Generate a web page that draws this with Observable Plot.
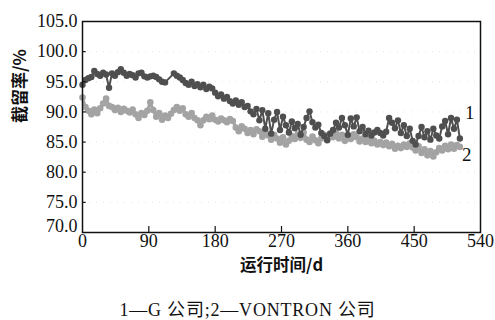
<!DOCTYPE html>
<html>
<head>
<meta charset="utf-8">
<script src="https://cdn.jsdelivr.net/npm/d3@7"></script>
<script src="https://cdn.jsdelivr.net/npm/@observablehq/plot@0.6"></script>
<style>
  html, body { margin: 0; padding: 0; background: #fff; }
  #chart { width: 495px; }
  #caption { text-align: center; font-family: "Liberation Serif", "Noto Sans CJK SC", serif; font-size: 18px; letter-spacing: 0.8px; line-height: 20px; margin-top: 10px; color: #111; }
</style>
</head>
<body>
<div id="chart"></div>
<div id="caption"></div>
<script>
// ---- data ----
const xTicks = [0, 90, 180, 270, 360, 450, 540];
const yTicks = [70, 75, 80, 85, 90, 95, 100, 105];
const xLabel = "运行时间/d";
const yLabel = "截留率/%";
const seriesNames = ["1", "2"];
const captionText = "1—G 公司;2—VONTRON 公司";

// series 1: G company (day, rejection %)
const seriesG = [
  [0,94.5],[4,95.3],[8,95.6],[12,95.8],[16,96.8],[20,96.3],[24,96.0],[28,96.5],[32,96.2],[36,94.0],
  [40,96.4],[44,96.0],[48,96.6],[52,97.1],[56,96.5],[60,96.0],[64,96.3],[68,96.1],[72,95.7],[76,96.4],
  [80,96.5],[84,95.9],[88,95.7],[92,95.9],[96,96.0],[100,95.8],[104,95.4],[108,95.0],[112,94.9],
  [124,96.4],[128,96.0],[132,95.7],[136,95.3],[140,94.8],[144,94.5],[148,95.0],[152,94.3],[156,94.6],
  [160,94.1],[164,94.5],[168,93.8],[172,94.2],[176,93.9],[180,93.2],[184,92.6],[188,92.9],[192,92.2],
  [196,92.5],[200,91.8],[204,91.4],[208,91.9],[212,91.2],[216,91.6],[220,90.8],[224,91.0],[228,90.1],
  [232,89.6],[236,90.5],[240,88.6],[244,90.3],[248,87.2],[252,89.8],[256,86.4],[260,88.7],[264,90.0],
  [268,87.0],[272,89.2],[276,87.8],[280,86.6],[284,88.4],[288,87.3],[292,88.0],[296,86.2],[300,87.5],
  [304,89.0],[308,90.1],[312,88.3],[316,87.4],[320,87.9],[324,86.5],[328,86.0],[332,85.3],[336,86.4],
  [340,87.0],[344,88.2],[348,87.4],[352,89.0],[356,87.8],[360,86.2],[364,88.9],[368,87.6],[372,89.1],
  [376,86.8],[380,87.5],[384,86.3],[388,86.9],[392,86.1],[396,86.6],[400,87.0],[404,86.5],[408,86.1],
  [412,86.7],[416,89.0],[420,88.2],[424,87.3],[428,88.6],[432,86.5],[436,87.8],[440,86.0],[444,87.2],
  [448,85.2],[452,84.6],[456,86.0],[460,87.5],[464,85.8],[468,86.8],[472,85.4],[476,87.2],[480,86.1],
  [484,85.6],[488,87.6],[492,88.5],[496,86.3],[500,89.0],[504,87.2],[508,88.7],[512,85.6]
];

// series 2: VONTRON company (day, rejection %)
const seriesV = [
  [0,92.4],[4,90.8],[8,90.2],[12,89.6],[16,90.4],[20,89.8],[24,90.6],[28,91.4],[32,92.2],[36,91.0],
  [40,90.8],[44,90.3],[48,90.7],[52,90.0],[56,90.5],[60,90.2],[64,89.9],[68,90.4],[72,89.6],[76,89.0],
  [80,89.8],[84,89.5],[88,90.2],[92,91.6],[96,90.3],[100,89.2],[104,89.8],[108,88.7],[112,89.4],[116,89.0],
  [120,89.7],[124,90.3],[128,90.8],[132,90.2],[136,90.6],[140,89.6],[144,89.2],[148,89.8],[152,89.0],
  [156,88.6],[160,87.8],[164,88.6],[168,89.2],[172,88.8],[176,89.4],[180,88.7],[184,88.4],[188,88.9],
  [192,88.6],[196,88.3],[200,88.8],[204,88.5],[208,87.4],[212,86.8],[216,87.6],[220,87.2],[224,86.5],
  [228,87.0],[232,86.3],[236,87.1],[240,86.8],[244,85.9],[248,86.7],[252,86.1],[256,85.4],[260,86.2],
  [264,85.6],[268,84.9],[272,85.8],[276,84.6],[280,85.2],[284,86.0],[288,85.5],[292,86.3],[296,85.7],
  [300,86.6],[304,85.4],[308,85.0],[312,85.9],[316,85.3],[320,84.8],[324,85.6],[328,86.2],[332,85.4],
  [336,86.4],[340,85.8],[344,86.5],[348,85.6],[352,86.2],[356,85.2],[360,86.0],[364,85.5],[368,86.3],
  [372,85.8],[376,85.1],[380,85.6],[384,85.0],[388,85.4],[392,84.8],[396,85.2],[400,84.6],[404,85.0],
  [408,84.5],[412,84.9],[416,84.3],[420,84.7],[424,83.9],[428,84.4],[432,84.0],[436,84.6],[440,84.2],
  [444,84.8],[448,84.1],[452,83.6],[456,84.3],[460,83.2],[464,83.8],[468,82.8],[472,83.5],[476,82.6],
  [480,83.3],[484,84.0],[488,83.6],[492,84.4],[496,83.8],[500,84.6],[504,83.9],[508,84.5],[512,84.2]
];

// ---- build ----
const toRows = (arr) => arr.map(([d, v]) => ({d, v}));
const rowsG = toRows(seriesG);
const rowsV = toRows(seriesV);
const darkC = "#4f4f4f";
const lightC = "#a3a3a3";
const serif = "'Liberation Serif', 'Times New Roman', serif";
const cjkBold = "'Noto Sans CJK SC', sans-serif";

const chart = Plot.plot({
  width: 495,
  height: 290,
  marginLeft: 82,
  marginRight: 15,
  marginTop: 21,
  marginBottom: 58,
  style: {fontFamily: serif, fontSize: "18px", color: "#111", background: "#fff"},
  x: {domain: [0, 540]},
  y: {domain: [70, 105]},
  marks: [
    Plot.gridY(yTicks.slice(1, -1), {stroke: "#bbb", strokeOpacity: 0.4, strokeDasharray: "1,6"}),
    // series 2 (light)
    Plot.line(rowsV, {x: "d", y: "v", stroke: lightC, strokeWidth: 3}),
    Plot.dot(rowsV, {x: "d", y: "v", fill: lightC, r: 3.3}),
    // series 1 (dark)
    Plot.line(rowsG, {x: "d", y: "v", stroke: darkC, strokeWidth: 2}),
    Plot.dot(rowsG, {x: "d", y: "v", fill: darkC, r: 3.2}),
    // series labels
    Plot.text(rowsG, Plot.selectLast({x: "d", y: "v", text: () => seriesNames[0], dx: 10, dy: -26, fontSize: 19, fontFamily: serif, fill: "#111"})),
    Plot.text(rowsV, Plot.selectLast({x: "d", y: "v", text: () => seriesNames[1], dx: 7, dy: 8, fontSize: 19, fontFamily: serif, fill: "#111"})),
    // inward ticks
    Plot.ruleX(xTicks.slice(1, -1), {y1: 70, y2: 71, stroke: "#111", strokeWidth: 1.2}),
    Plot.ruleY(yTicks.slice(1, -1), {x1: 0, x2: 5, stroke: "#111", strokeWidth: 1.2}),
    // tick labels
    Plot.axisX(xTicks, {tickSize: 0, tickPadding: 2, fontSize: 18, fill: "#111", label: null}),
    Plot.axisY(yTicks.slice(1), {tickSize: 0, tickPadding: 5, fontSize: 18, fill: "#111", tickFormat: (d) => d.toFixed(1), label: null}),
    Plot.axisY([yTicks[0]], {tickSize: 0, tickPadding: 5, dy: -6, fontSize: 18, fill: "#111", tickFormat: (d) => d.toFixed(1), label: null}),
    // axis titles
    Plot.text([xLabel], {frameAnchor: "bottom", dy: 38, text: (d) => d, fontSize: 16.5, fontWeight: "bold", fontFamily: cjkBold, fill: "#111"}),
    Plot.text([yLabel], {frameAnchor: "left", dx: -62, dy: -4, rotate: -90, text: (d) => d, fontSize: 17, fontWeight: "bold", fontFamily: cjkBold, fill: "#111"}),
    Plot.frame({stroke: "#111", strokeWidth: 1.5})
  ]
});
document.getElementById("chart").appendChild(chart);
document.getElementById("caption").textContent = captionText;
</script>
</body>
</html>
